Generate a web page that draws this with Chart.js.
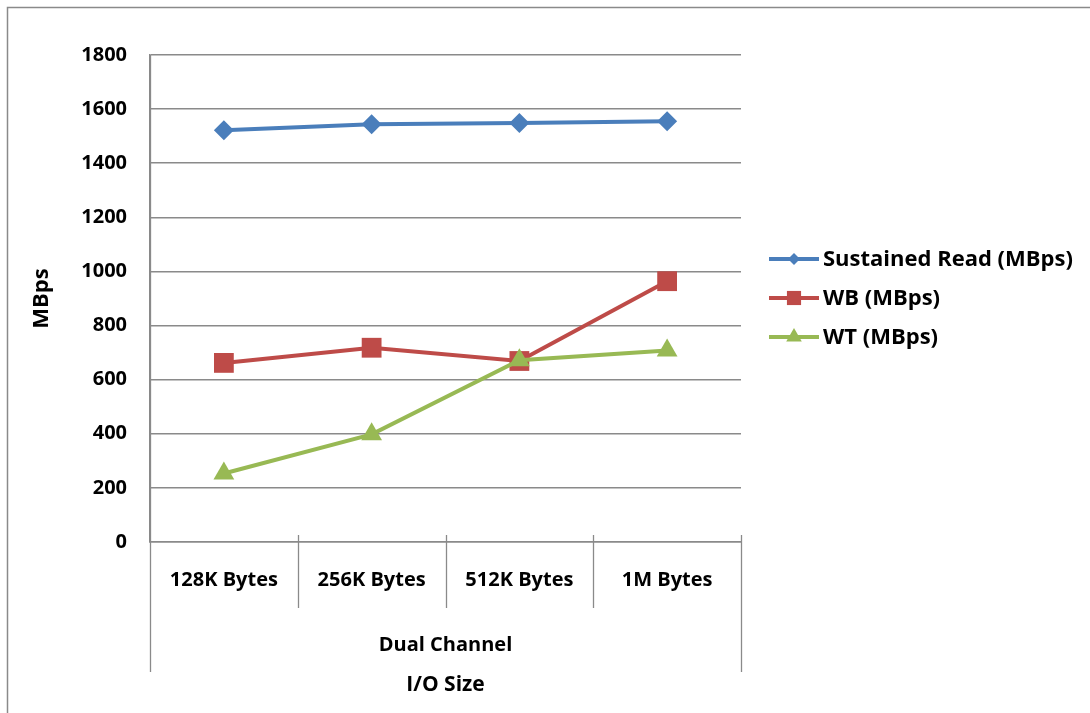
<!DOCTYPE html>
<html>
<head>
<meta charset="utf-8">
<script src="https://cdn.jsdelivr.net/npm/chart.js@4/dist/chart.umd.min.js"></script>
<style>
  html, body { margin: 0; padding: 0; background: #ffffff; }
  canvas { display: block; }
</style>
</head>
<body>
<canvas id="c" width="1090" height="713"></canvas>
<script>
// I/O size categories and their shared group label
const categories = ['128K Bytes', '256K Bytes', '512K Bytes', '1M Bytes'];
const groupLabel = 'Dual Channel';

// Throughput per I/O size, in MBps
const sustainedRead = [1522, 1544, 1549, 1555];
const wbValues = [662, 718, 669, 964];
const wtValues = [253, 398, 672, 708];

// Value axis range
const yMin = 0;
const yMax = 1800;
const yStep = 200;

const FONT = '"Open Sans", Lato, sans-serif';
const GRID = '#8a8a8a';

const seriesStyles = [
  { label: 'Sustained Read (MBps)', data: sustainedRead, color: '#4a7ebb', style: 'rectRot', r: 10, legendR: 6 },
  { label: 'WB (MBps)', data: wbValues, color: '#be4b48', style: 'rect', r: 14, legendR: 10 },
  { label: 'WT (MBps)', data: wtValues, color: '#98b954', style: 'triangle', r: 12, legendR: 9 }
];

// Outer frame, category separators, group label and legend
const decorations = {
  id: 'decorations',
  beforeDraw(chart) {
    const ctx = chart.ctx;
    ctx.save();
    ctx.fillStyle = '#ffffff';
    ctx.fillRect(0, 0, chart.width, chart.height);
    ctx.strokeStyle = GRID;
    ctx.lineWidth = 1.5;
    ctx.strokeRect(7.5, 7.5, chart.width + 10, chart.height + 10);
    ctx.restore();
  },
  afterDraw(chart) {
    const ctx = chart.ctx;
    const area = chart.chartArea;
    const n = categories.length;
    const band = (area.right - area.left) / n;
    ctx.save();
    ctx.strokeStyle = GRID;
    ctx.lineWidth = 1.3;
    for (let i = 0; i <= n; i++) {
      const px = Math.round(area.left + band * i) + 0.5;
      const outer = (i === 0 || i === n);
      ctx.beginPath();
      ctx.moveTo(px, i === 0 ? area.top : area.bottom - 7);
      ctx.lineTo(px, outer ? area.bottom + 130 : area.bottom + 66);
      ctx.stroke();
    }
    ctx.fillStyle = '#000000';
    ctx.font = 'bold 20px ' + FONT;
    ctx.textAlign = 'center';
    ctx.textBaseline = 'middle';
    ctx.fillText(groupLabel, (area.left + area.right) / 2, area.bottom + 103);

    // legend: line with marker, then the series name
    const lx0 = 769, lx1 = 819, tx = 823;
    const rows = [259, 298, 337];
    chart.data.datasets.forEach((ds, i) => {
      const s = seriesStyles[i];
      const y = rows[i];
      ctx.strokeStyle = s.color;
      ctx.lineWidth = 4;
      ctx.beginPath();
      ctx.moveTo(lx0, y);
      ctx.lineTo(lx1, y);
      ctx.stroke();
      ctx.fillStyle = s.color;
      Chart.helpers.drawPoint(ctx, { pointStyle: s.style, radius: s.legendR, rotation: 0, borderWidth: 0 }, (lx0 + lx1) / 2, y);
      ctx.fillStyle = '#000000';
      ctx.font = 'bold 22px ' + FONT;
      ctx.textAlign = 'left';
      ctx.textBaseline = 'middle';
      ctx.fillText(ds.label, tx, y + 1);
    });
    ctx.restore();
  }
};

new Chart(document.getElementById('c'), {
  type: 'line',
  data: {
    labels: categories,
    // later series are painted over earlier ones
    datasets: seriesStyles.map((s, i) => ({
      label: s.label,
      data: s.data,
      order: seriesStyles.length - i,
      borderColor: s.color,
      backgroundColor: s.color,
      borderWidth: 4,
      pointStyle: s.style,
      pointRadius: s.r,
      pointBorderWidth: 0,
      pointBackgroundColor: s.color,
      tension: 0
    }))
  },
  options: {
    responsive: false,
    animation: false,
    devicePixelRatio: 1,
    layout: { padding: { left: 0, right: 349, top: 55, bottom: 0 } },
    plugins: {
      legend: { display: false },
      tooltip: { enabled: false }
    },
    scales: {
      x: {
        offset: true,
        afterFit(scale) { scale.height = 171; },
        grid: { display: false, drawTicks: false },
        border: { display: true, color: GRID, width: 1.5 },
        ticks: {
          color: '#000000',
          font: { family: FONT, size: 20, weight: 'bold' },
          padding: 26,
          maxRotation: 0
        },
        title: {
          display: true,
          text: 'I/O Size',
          color: '#000000',
          font: { family: FONT, size: 21, weight: 'bold' },
          padding: { top: 0, bottom: 15 }
        }
      },
      y: {
        min: yMin,
        max: yMax,
        afterFit(scale) { scale.width = 150; },
        grid: { color: GRID, lineWidth: 1.5, drawTicks: false },
        border: { display: true, color: GRID, width: 1.5 },
        ticks: {
          stepSize: yStep,
          color: '#000000',
          font: { family: FONT, size: 20, weight: 'bold' },
          padding: 23,
          callback: (v) => String(v)
        },
        title: {
          display: true,
          text: 'MBps',
          color: '#000000',
          font: { family: FONT, size: 22, weight: 'bold' },
          padding: { top: 29, bottom: 0 }
        }
      }
    }
  },
  plugins: [decorations]
});
</script>
</body>
</html>
